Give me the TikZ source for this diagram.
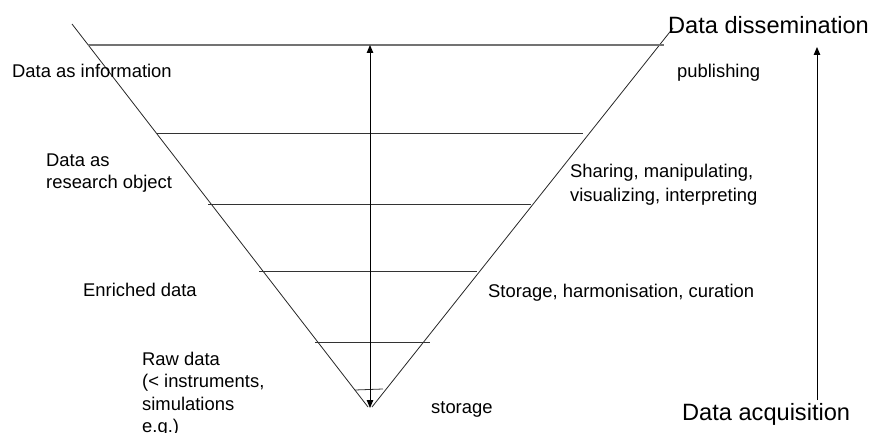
\documentclass[tikz,border=0pt]{standalone}
\usepackage{fontspec}
\setmainfont{Liberation Sans}
\usetikzlibrary{arrows.meta}
\begin{document}
\begin{tikzpicture}[x=1pt,y=-1pt,
  lbl/.style={anchor=base west,inner sep=0pt,font=\fontsize{18.4}{22}\selectfont},
  biglbl/.style={anchor=base west,inner sep=0pt,font=\fontsize{23.6}{27}\selectfont},
  edge/.style={line width=0.8pt,black!85},
  level/.style={line width=1pt,black!80},
  toplevel/.style={line width=1.2pt,black!55},
  arr/.style={line width=1pt,black,-{Triangle[length=8pt,width=6.5pt]}}]
\useasboundingbox (0,0) rectangle (871,433);
% funnel sides
\coordinate (lt) at (72,24);
\coordinate (lb) at (368,407);
\coordinate (rt) at (673,28);
\coordinate (rb) at (372,407);
\draw[edge] (lt) -- (lb);
\draw[edge] (rt) -- (rb);
% levels
\coordinate (l1a) at (88,45);  \coordinate (l1b) at (664,45);
\coordinate (l2a) at (157,134); \coordinate (l2b) at (583,134);
\coordinate (l3a) at (208,205); \coordinate (l3b) at (531,205);
\coordinate (l4a) at (259,271); \coordinate (l4b) at (477,271);
\coordinate (l5a) at (315,342); \coordinate (l5b) at (430,342);
\coordinate (l6a) at (355,390); \coordinate (l6b) at (383,389);
\draw[toplevel] (l1a) -- (l1b);
\draw[level] (l2a) -- (l2b);
\draw[level] (l3a) -- (l3b);
\draw[level] (l4a) -- (l4b);
\draw[level] (l5a) -- (l5b);
\draw[level,line width=0.8pt] (l6a) -- (l6b);
% double arrow
\coordinate (dtop) at (370,45);
\coordinate (dbot) at (370,408);
\draw[arr,{Triangle[length=8pt,width=6.5pt]}-{Triangle[length=8pt,width=6.5pt]}] (dbot) -- (dtop);
% right arrow
\coordinate (ra) at (817,400);
\coordinate (rd) at (817,47);
\draw[arr] (ra) -- (rd);
% left labels
\node[lbl] (info) at (12,77.5) {Data as information};
\node[lbl] (ro1) at (46,167) {Data as};
\node[lbl] (ro2) at (46,188.5) {research object};
\node[lbl] (enr) at (83,296) {Enriched data};
\node[lbl] (raw1) at (142,365) {Raw data};
\node[lbl] (raw2) at (142,387.5) {(< instruments,};
\node[lbl] (raw3) at (142,410) {simulations};
\node[lbl] (raw4) at (142,432) {e.g.)};
% right labels
\node[lbl] (pub) at (677,78) {publishing};
\node[lbl] (sh1) at (570,178) {Sharing, manipulating,};
\node[lbl] (sh2) at (570,201) {visualizing, interpreting};
\node[lbl] (sto) at (488,298) {Storage, harmonisation, curation};
\node[lbl] (store) at (431,413) {storage};
\node[biglbl] (diss) at (668,33.5) {Data dissemination};
\node[biglbl] (acq) at (682,420) {Data acquisition};
\end{tikzpicture}
\end{document}
